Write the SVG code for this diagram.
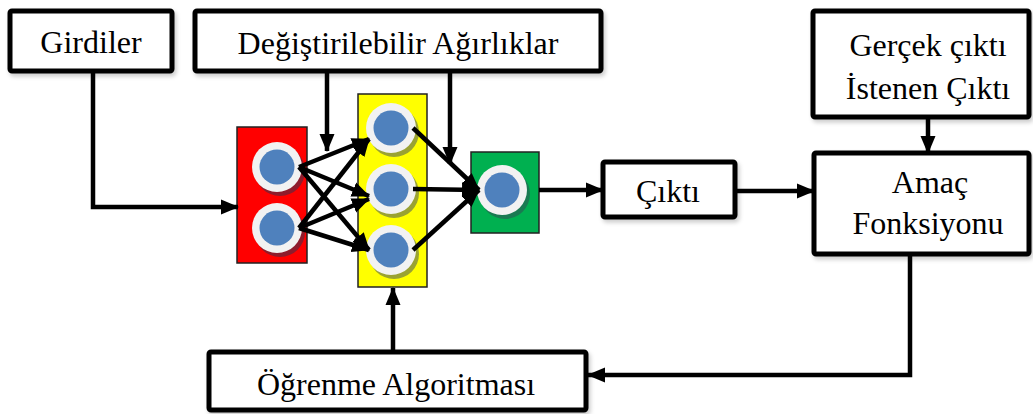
<svg xmlns="http://www.w3.org/2000/svg" width="1033" height="414" viewBox="0 0 1033 414">
<style>
.box{fill:#fff;stroke:#000;stroke-width:5}
.lbl{font-family:'Liberation Serif','Times New Roman',Tinos,'DejaVu Serif','Noto Serif',serif;font-size:32px;fill:#000;text-anchor:middle}
.con{fill:none;stroke:#000;stroke-width:4.5}
.layer{stroke:#222;stroke-width:1.5}
.ring{fill:#f2f2f2}
.core{fill:#4f81bd}
</style>
<defs>
<marker id="ah" markerUnits="userSpaceOnUse" markerWidth="18" markerHeight="18" viewBox="0 0 18 18" refX="17" refY="9" orient="auto">
<path d="M0,1.5 L18,9 L0,16.5 Z" fill="#000"/>
</marker>
<filter id="sh" x="-10%" y="-10%" width="130%" height="130%">
<feDropShadow dx="2" dy="3" stdDeviation="2" flood-color="#000" flood-opacity="0.2"/>
</filter>
</defs>

<g id="girdiler"><rect class="box" x="10" y="11" width="162" height="60" rx="2" filter="url(#sh)"/><text class="lbl" x="91" y="53">Girdiler</text></g>
<g id="agirliklar"><rect class="box" x="195" y="11" width="406" height="60" rx="2" filter="url(#sh)"/><text class="lbl" x="398" y="54">Değiştirilebilir Ağırlıklar</text></g>
<g id="gercek"><rect class="box" x="813" y="11" width="216" height="106" rx="2" filter="url(#sh)"/><text class="lbl" x="928" y="56">Gerçek çıktı</text><text class="lbl" x="928" y="99">İstenen Çıktı</text></g>
<g id="cikti"><rect class="box" x="603" y="162" width="132" height="55" rx="2" filter="url(#sh)"/><text class="lbl" x="668" y="202">Çıktı</text></g>
<g id="amac"><rect class="box" x="814" y="153" width="215" height="101" rx="2" filter="url(#sh)"/><text class="lbl" x="930" y="193">Amaç</text><text class="lbl" x="928" y="234">Fonksiyonu</text></g>
<g id="ogrenme"><rect class="box" x="209" y="352" width="377" height="58" rx="2" filter="url(#sh)"/><text class="lbl" x="396" y="395">Öğrenme Algoritması</text></g>

<g id="input-layer">
<rect class="layer" x="237" y="127" width="70" height="136" fill="#ff0000"/>
<circle cx="280" cy="171" r="25" fill="#8e1c2c"/><circle class="ring" cx="277" cy="167" r="25"/><circle class="core" cx="277" cy="167" r="17.5"/>
<circle cx="280" cy="232" r="25" fill="#8e1c2c"/><circle class="ring" cx="277" cy="228" r="25"/><circle class="core" cx="277" cy="228" r="17.5"/>
</g>
<g id="hidden-layer">
<rect class="layer" x="358" y="94" width="69" height="193" fill="#ffff00"/>
<circle cx="394" cy="132" r="25" fill="#9aa232"/><circle class="ring" cx="391" cy="128" r="25"/><circle class="core" cx="391" cy="128" r="17.5"/>
<circle cx="394" cy="193" r="25" fill="#9aa232"/><circle class="ring" cx="391" cy="189" r="25"/><circle class="core" cx="391" cy="189" r="17.5"/>
<circle cx="394" cy="254" r="25" fill="#9aa232"/><circle class="ring" cx="391" cy="250" r="25"/><circle class="core" cx="391" cy="250" r="17.5"/>
</g>
<g id="output-layer">
<rect class="layer" x="471" y="152" width="68" height="81" fill="#00b050"/>
<circle cx="505" cy="194" r="25" fill="#1a7a52"/><circle class="ring" cx="502" cy="190" r="25"/><circle class="core" cx="502" cy="190" r="17.5"/>
</g>

<g id="connectors">
<path class="con" d="M93,71 V207 H238" marker-end="url(#ah)"/>
<path class="con" d="M327,71 V151" marker-end="url(#ah)"/>
<path class="con" d="M450,71 V164" marker-end="url(#ah)"/>
<path class="con" d="M299,167 L369,139" marker-end="url(#ah)"/>
<path class="con" d="M299,167 L369,196" marker-end="url(#ah)"/>
<path class="con" d="M299,167 L369,250" marker-end="url(#ah)"/>
<path class="con" d="M299,228 L369,139" marker-end="url(#ah)"/>
<path class="con" d="M299,228 L369,199" marker-end="url(#ah)"/>
<path class="con" d="M299,228 L369,250" marker-end="url(#ah)"/>
<path class="con" d="M413,128 L479,190" marker-end="url(#ah)"/>
<path class="con" d="M413,189 L479,190" marker-end="url(#ah)"/>
<path class="con" d="M413,250 L479,190" marker-end="url(#ah)"/>
<path class="con" d="M539,190 H603" marker-end="url(#ah)"/>
<path class="con" d="M735,191 H814" marker-end="url(#ah)"/>
<path class="con" d="M928,117 V153" marker-end="url(#ah)"/>
<path class="con" d="M910,254 V375 H588" marker-end="url(#ah)"/>
<path class="con" d="M393,352 V288" marker-end="url(#ah)"/>
</g>
</svg>
